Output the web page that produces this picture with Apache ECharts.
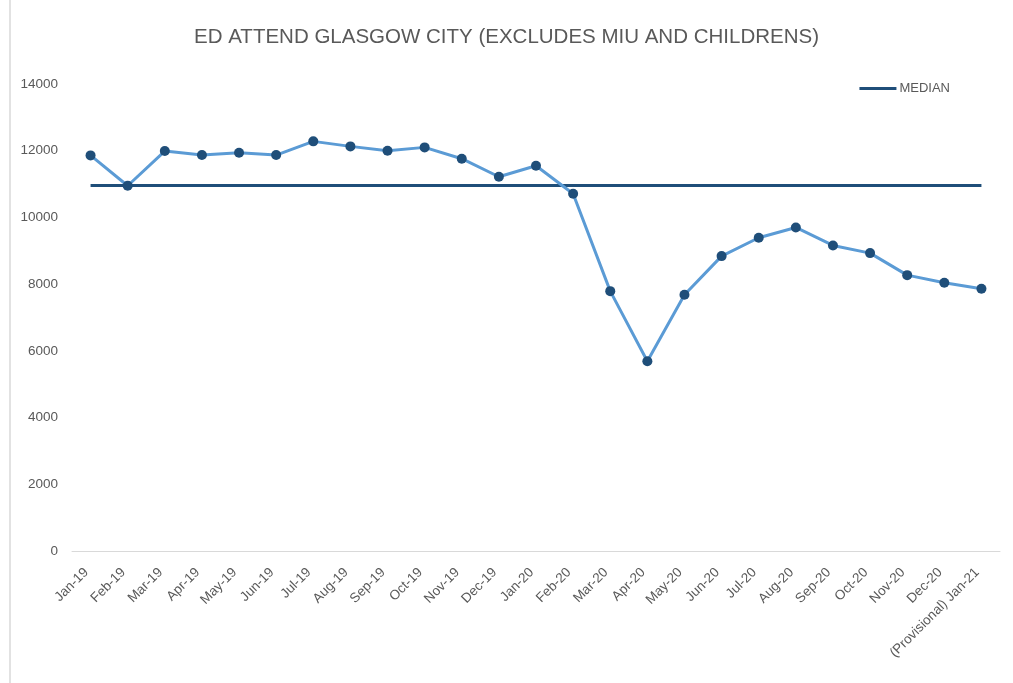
<!DOCTYPE html>
<html><head><meta charset="utf-8">
<script src="https://cdn.jsdelivr.net/npm/echarts@6/dist/echarts.min.js"></script>
<style>html,body{margin:0;padding:0;background:#fff}#c{width:1013px;height:683px}</style>
</head><body><div id="c"></div>
<script>
const categories = ['Jan-19','Feb-19','Mar-19','Apr-19','May-19','Jun-19','Jul-19','Aug-19','Sep-19','Oct-19','Nov-19','Dec-19','Jan-20','Feb-20','Mar-20','Apr-20','May-20','Jun-20','Jul-20','Aug-20','Sep-20','Oct-20','Nov-20','Dec-20','(Provisional) Jan-21'];
const attendances = [11860,10950,11990,11870,11940,11870,12280,12130,12000,12100,11760,11220,11550,10710,7790,5690,7680,8840,9390,9700,9160,8930,8270,8040,7860];
const medianValue = 10960;
const medianSeries = categories.map(() => medianValue);
const yTicks = [0,2000,4000,6000,8000,10000,12000,14000];

const chart = echarts.init(document.getElementById('c'));
const txt = '#595959';
chart.setOption({
  animation:false,
  title:{text:'ED ATTEND GLASGOW CITY (EXCLUDES MIU AND CHILDRENS)',left:'center',top:22,
    textStyle:{fontFamily:'Liberation Sans',fontSize:20.5,fontWeight:'normal',color:txt}},
  legend:{data:['MEDIAN'],right:58,top:77,itemWidth:37,itemHeight:3,itemGap:4,
    icon:'rect',textStyle:{fontFamily:'Liberation Sans',fontSize:13,color:txt,padding:[0,0,0,-2]}},
  grid:{left:72,right:13,top:84,bottom:132,containLabel:false},
  graphic:[{type:'line',shape:{x1:10,y1:0,x2:10,y2:683},style:{stroke:'#d9d9d9',lineWidth:1.5}}],
  xAxis:{type:'category',data:categories,boundaryGap:true,
    axisLine:{lineStyle:{color:'#d9d9d9'}},axisTick:{show:false},
    axisLabel:{rotate:45,interval:0,color:txt,fontFamily:'Liberation Sans',fontSize:13.5,margin:15,padding:[0,6,0,0]}},
  yAxis:{type:'value',min:yTicks[0],max:yTicks[yTicks.length-1],interval:2000,
    axisLine:{show:false},axisTick:{show:false},splitLine:{show:false},
    axisLabel:{color:txt,fontFamily:'Liberation Sans',fontSize:13.5,margin:14,formatter:v=>String(v)}},
  series:[
    {name:'ATTEND',type:'line',data:attendances,symbol:'circle',symbolSize:10,
      lineStyle:{color:'#5b9bd5',width:3},itemStyle:{color:'#1f4e79'},z:3},
    {name:'MEDIAN',type:'line',data:medianSeries,symbol:'none',
      lineStyle:{color:'#1f4e79',width:3},itemStyle:{color:'#1f4e79'},z:2}
  ]
});
</script></body></html>
